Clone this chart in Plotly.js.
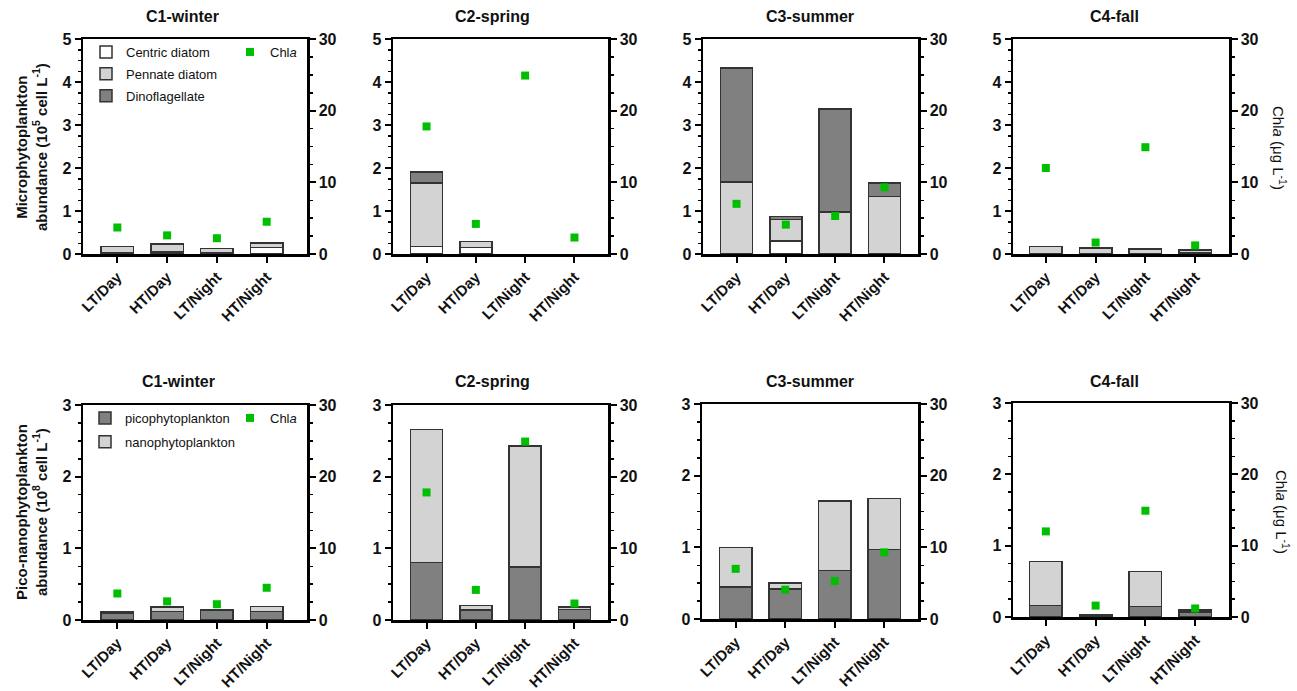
<!DOCTYPE html>
<html>
<head>
<meta charset="utf-8">
<script src="https://cdn.plot.ly/plotly-3.0.1.min.js"></script>
<style>
  html, body { margin: 0; padding: 0; background: #fff; }
  #chart { width: 1297px; height: 691px; }
</style>
</head>
<body>
<div id="chart"></div>
<script>
// ---------------- DATA ----------------
const categories = ['LT/Day', 'HT/Day', 'LT/Night', 'HT/Night'];
const seasons = ['C1-winter', 'C2-spring', 'C3-summer', 'C4-fall'];

// Microphytoplankton abundance (10^5 cell L^-1)
const centricC1 = [0.04, 0.05, 0.04, 0.15];
const pennateC1 = [0.13, 0.18, 0.09, 0.09];
const dinoC1    = [0, 0, 0, 0.03];
const centricC2 = [0.18, 0.15, 0, 0];
const pennateC2 = [1.47, 0.14, 0, 0];
const dinoC2    = [0.26, 0, 0, 0];
const centricC3 = [0, 0.30, 0, 0];
const pennateC3 = [1.68, 0.50, 0.98, 1.34];
const dinoC3    = [2.65, 0.075, 2.39, 0.31];
const centricC4 = [0, 0, 0, 0.02];
const pennateC4 = [0.17, 0.14, 0.12, 0.07];
const dinoC4    = [0, 0, 0, 0];

// Pico-nanophytoplankton abundance (10^8 cell L^-1)
const picoC1 = [0.10, 0.12, 0.13, 0.12];
const nanoC1 = [0.02, 0.06, 0.02, 0.07];
const picoC2 = [0.80, 0.14, 0.74, 0.15];
const nanoC2 = [1.86, 0.065, 1.69, 0.03];
const picoC3 = [0.45, 0.42, 0.68, 0.97];
const nanoC3 = [0.55, 0.08, 0.97, 0.71];
const picoC4 = [0.16, 0.03, 0.15, 0.07];
const nanoC4 = [0.62, 0.005, 0.49, 0.03];

// Chla (ug L^-1)
const chlaC1 = [3.7, 2.6, 2.2, 4.5];
const chlaC2 = [17.8, 4.2, 24.9, 2.3];
const chlaC3 = [7.0, 4.1, 5.3, 9.3];
const chlaC4 = [12.0, 1.6, 14.9, 1.2];

// ---------------- STYLE ----------------
const W = 1297, H = 691;
const FONT = 'Liberation Sans, Arial, sans-serif';
const colWhite = '#ffffff', colLight = '#d3d3d3', colDark = '#808080';
const edge = '#333333';
const green = '#00bf00';

const micro = [
  [centricC1, pennateC1, dinoC1],
  [centricC2, pennateC2, dinoC2],
  [centricC3, pennateC3, dinoC3],
  [centricC4, pennateC4, dinoC4]
];
const piconano = [
  [picoC1, nanoC1], [picoC2, nanoC2], [picoC3, nanoC3], [picoC4, nanoC4]
];
const chla = [chlaC1, chlaC2, chlaC3, chlaC4];
// empty segments are not drawn
const seg = arr => arr.map(v => (v === 0 ? null : v));

// panel pixel boxes [left, right, top, bottom]
const boxes = [
  [83, 307, 39, 254], [393, 608, 39, 254], [703, 918, 39, 254], [1013, 1229, 39, 254],
  [83, 307, 405, 620], [393, 608, 405, 620], [702, 918, 404, 619], [1013, 1229, 403, 617]
];
const xranges = [
  [-0.69, 3.81], [-0.68, 3.68], [-0.68, 3.68], [-0.66, 3.68],
  [-0.69, 3.81], [-0.68, 3.68], [-0.68, 3.68], [-0.66, 3.68]
];

const px = v => v / W;
const py = v => 1 - v / H;

const traces = [];
const layout = {
  width: W, height: H,
  margin: {l: 0, r: 0, t: 0, b: 0},
  paper_bgcolor: '#fff', plot_bgcolor: 'rgba(0,0,0,0)',
  barmode: 'stack',
  bargap: 0.35,
  font: {family: FONT, color: '#111'},
  showlegend: true,
  annotations: []
};

const tickfont = {family: FONT, size: 16, color: '#111', weight: 'bold'};

for (let p = 0; p < 8; p++) {
  const row = p < 4 ? 0 : 1;
  const col = p % 4;
  const xid = p === 0 ? 'x' : 'x' + (p + 1);
  const yL = 2 * p + 1, yR = 2 * p + 2;
  const yLid = yL === 1 ? 'y' : 'y' + yL;
  const yRid = 'y' + yR;
  const b = boxes[p];

  layout[p === 0 ? 'xaxis' : 'xaxis' + (p + 1)] = {
    domain: [px(b[0]), px(b[1])],
    anchor: yLid,
    type: 'category',
    range: xranges[p],
    showline: true, linecolor: '#000', linewidth: 2.5, mirror: true,
    ticks: 'outside', ticklen: 6, tickwidth: 2, tickcolor: '#000',
    tickangle: -45, tickfont: {family: FONT, size: 15, color: '#111', weight: 'bold'},
    showgrid: false, zeroline: false, fixedrange: true
  };
  layout[yL === 1 ? 'yaxis' : 'yaxis' + yL] = {
    domain: [py(b[3]), py(b[2])],
    anchor: xid,
    range: row === 0 ? [0, 5] : [0, 3],
    dtick: 1, tick0: 0,
    showline: true, linecolor: '#000', linewidth: 2.5,
    ticks: 'outside', ticklen: 6, tickwidth: 2, tickcolor: '#000',
    minor: {dtick: 0.25, ticks: 'outside', ticklen: 3, tickwidth: 1.5, tickcolor: '#000'},
    tickfont: tickfont,
    showgrid: false, zeroline: false, fixedrange: true
  };
  layout['yaxis' + yR] = {
    anchor: xid, overlaying: yLid, side: 'right',
    range: [0, 30], dtick: 10, tick0: 0,
    showline: true, linecolor: '#000', linewidth: 2.5,
    ticks: 'outside', ticklen: 6, tickwidth: 2, tickcolor: '#000',
    minor: {dtick: 2.5, ticks: 'outside', ticklen: 3, tickwidth: 1.5, tickcolor: '#000'},
    tickfont: tickfont,
    showgrid: false, zeroline: false, fixedrange: true
  };

  const first = col === 0;
  if (row === 0) {
    const names = ['Centric diatom', 'Pennate diatom', 'Dinoflagellate'];
    const cols = [colWhite, colLight, colDark];
    for (let k = 0; k < 3; k++) {
      traces.push({
        type: 'bar', x: categories, y: seg(micro[col][k]), name: names[k],
        xaxis: xid, yaxis: yLid, width: 0.65,
        marker: {color: cols[k], line: {color: edge, width: 1.5}},
        legend: 'legend', legendgroup: 'm' + k, showlegend: first, legendrank: k + 1,
        hoverinfo: 'skip'
      });
    }
  } else {
    const names = ['picophytoplankton', 'nanophytoplankton'];
    const cols = [colDark, colLight];
    for (let k = 0; k < 2; k++) {
      traces.push({
        type: 'bar', x: categories, y: seg(piconano[col][k]), name: names[k],
        xaxis: xid, yaxis: yLid, width: 0.65,
        marker: {color: cols[k], line: {color: edge, width: 1.5}},
        legend: 'legend3', legendgroup: 'p' + k, showlegend: first, legendrank: k + 1,
        hoverinfo: 'skip'
      });
    }
  }
  traces.push({
    type: 'scatter', mode: 'markers', x: categories, y: chla[col],
    name: 'Chl<i>a</i>', xaxis: xid, yaxis: yRid,
    marker: {symbol: 'square', size: 8, color: green},
    legend: row === 0 ? 'legend2' : 'legend4', showlegend: first,
    hoverinfo: 'skip'
  });
}

// Legends
const legFont = {family: FONT, size: 13, color: '#111'};
const legBase = {bgcolor: 'rgba(0,0,0,0)', font: legFont, xanchor: 'left', yanchor: 'top',
                 traceorder: 'grouped', itemclick: false, itemdoubleclick: false};
layout.legend  = Object.assign({}, legBase, {x: px(86),  y: py(37), tracegroupgap: 2});
layout.legend2 = Object.assign({}, legBase, {x: px(230), y: py(37), tracegroupgap: 0});
layout.legend3 = Object.assign({}, legBase, {x: px(85),  y: py(403), tracegroupgap: 4});
layout.legend4 = Object.assign({}, legBase, {x: px(230), y: py(403), tracegroupgap: 0});

// Panel titles
const titleX = [182, 492, 810, 1114];
const titleFont = {family: FONT, size: 16, color: '#111', weight: 'bold'};
for (let c = 0; c < 4; c++) {
  layout.annotations.push({xref: 'paper', yref: 'paper', x: px(titleX[c]), y: py(17),
    text: seasons[c], showarrow: false, xanchor: 'center', yanchor: 'middle', font: titleFont});
  layout.annotations.push({xref: 'paper', yref: 'paper', x: px(c === 0 ? 178 : titleX[c]), y: py(382),
    text: seasons[c], showarrow: false, xanchor: 'center', yanchor: 'middle', font: titleFont});
}

// Axis titles
const axTitleFont = {family: FONT, size: 15, color: '#111', weight: 'bold'};
layout.annotations.push({xref: 'paper', yref: 'paper', x: px(32), y: py(147), textangle: -90,
  text: 'Microphytoplankton<br>abundance (10<sup>5</sup> cell L<sup>-1</sup>)',
  showarrow: false, xanchor: 'center', yanchor: 'middle', font: axTitleFont});
layout.annotations.push({xref: 'paper', yref: 'paper', x: px(32), y: py(512), textangle: -90,
  text: 'Pico-nanophytoplankton<br>abundance (10<sup>8</sup> cell L<sup>-1</sup>)',
  showarrow: false, xanchor: 'center', yanchor: 'middle', font: axTitleFont});
const rFont = {family: FONT, size: 15, color: '#111'};
layout.annotations.push({xref: 'paper', yref: 'paper', x: px(1280), y: py(148), textangle: 90,
  text: 'Chl<i>a</i> (μg L<sup>-1</sup>)', showarrow: false, xanchor: 'center', yanchor: 'middle', font: rFont});
layout.annotations.push({xref: 'paper', yref: 'paper', x: px(1282), y: py(512), textangle: 90,
  text: 'Chl<i>a</i> (μg L<sup>-1</sup>)', showarrow: false, xanchor: 'center', yanchor: 'middle', font: rFont});

Plotly.newPlot('chart', traces, layout, {staticPlot: true, displayModeBar: false});
</script>
</body>
</html>
